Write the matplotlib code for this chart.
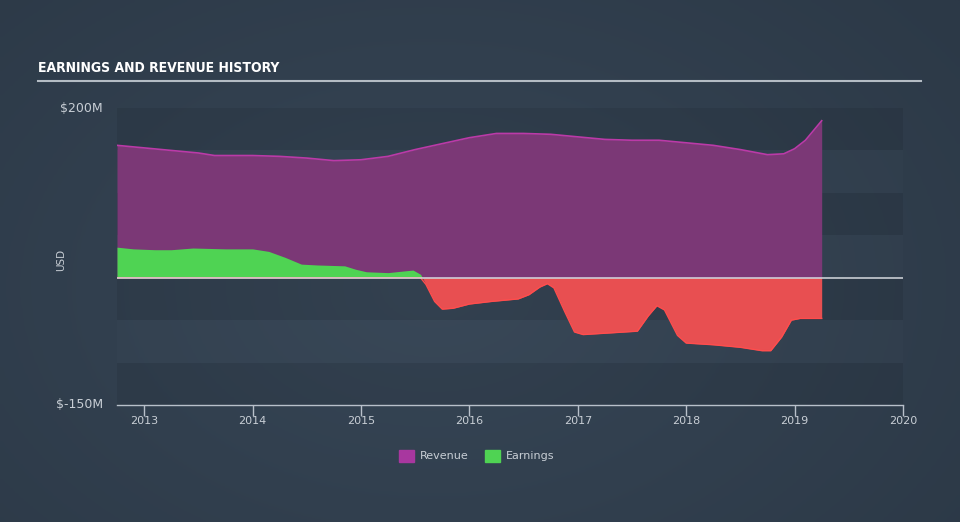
import matplotlib.pyplot as plt
import numpy as np
from matplotlib.patches import Rectangle

# revenue (USD millions)
rev_t = [2012.75, 2013.0, 2013.25, 2013.5, 2013.65, 2014.0, 2014.25, 2014.5, 2014.75,
         2015.0, 2015.25, 2015.5, 2015.75, 2016.0, 2016.25, 2016.5, 2016.75, 2017.0,
         2017.25, 2017.5, 2017.75, 2018.0, 2018.25, 2018.5, 2018.75, 2018.9, 2019.0,
         2019.1, 2019.25]
rev_v = [156, 153, 150, 147, 144, 144, 143, 141, 138,
         139, 143, 151, 158, 165, 170, 170, 169, 166,
         163, 162, 162, 159, 156, 151, 145, 146, 152,
         162, 185]

# earnings (USD millions)
earn_t = [2012.75, 2012.9, 2013.1, 2013.25, 2013.45, 2013.75, 2014.0, 2014.15, 2014.3,
          2014.45, 2014.6, 2014.85, 2014.95, 2015.05, 2015.25, 2015.4, 2015.48, 2015.55,
          2015.6, 2015.68, 2015.75, 2015.85, 2016.0, 2016.2, 2016.45, 2016.55, 2016.65,
          2016.72, 2016.78, 2016.88, 2016.97, 2017.05, 2017.3, 2017.55, 2017.65, 2017.73,
          2017.8, 2017.92, 2018.0, 2018.25, 2018.5, 2018.7, 2018.78, 2018.88, 2018.97,
          2019.05, 2019.25]
earn_v = [36, 34, 33, 33, 35, 34, 34, 31, 24,
          16, 15, 14, 10, 7, 6, 8, 9, 4,
          -8, -28, -37, -36, -31, -28, -25, -20, -11,
          -7, -12, -40, -64, -67, -65, -63, -45, -33,
          -38, -68, -77, -79, -82, -86, -86, -70, -50,
          -48, -48]

years = [2013, 2014, 2015, 2016, 2017, 2018, 2019, 2020]

W, H = 960, 522
fig = plt.figure(figsize=(W / 100, H / 100), dpi=100)

# background gradient
bg = fig.add_axes([0, 0, 1, 1], zorder=-10)
yy, xx = np.mgrid[0:1:200j, 0:1:200j]
r = np.sqrt((xx - 0.45) ** 2 + ((yy - 0.55) * 0.8) ** 2)
c0 = np.array([0x37, 0x46, 0x56]) / 255
c1 = np.array([0x2c, 0x39, 0x47]) / 255
img = c0[None, None, :] + (c1 - c0)[None, None, :] * np.clip(r / 0.7, 0, 1)[:, :, None]
bg.imshow(img, extent=[0, 1, 0, 1], aspect='auto')
bg.axis('off')

ax = fig.add_axes([117 / W, (H - 405) / H, (903 - 117) / W, (405 - 108) / H])
ax.set_facecolor('none')
ax.set_xlim(2012.75, 2020.0)
ax.set_ylim(-150, 200)

# horizontal bands
for i, lo in enumerate(range(150, -200, -50)):
    if i % 2 == 0:
        ax.axhspan(lo, lo + 50, color='black', alpha=0.07, lw=0, zorder=0)
    else:
        ax.axhspan(lo, lo + 50, color='white', alpha=0.01, lw=0, zorder=0)

ax.fill_between(rev_t, 0, rev_v, color='#7b3876', lw=0, zorder=2)
ax.plot(rev_t, rev_v, color='#bb3aa8', lw=1.2, zorder=3)

et = np.array(earn_t)
ev = np.array(earn_v)
ax.fill_between(et, 0, ev, where=ev >= 0, interpolate=True, color='#4fd353', lw=0, zorder=4)
ax.fill_between(et, 0, ev, where=ev <= 0, interpolate=True, color='#e84f51', lw=0, zorder=4)
ax.plot(et, np.clip(ev, None, 0), color='#ff4d4d', lw=1, zorder=5)

ax.axhline(0, color='#d6dadf', lw=1.1, zorder=6)

for s in ['top', 'right', 'left']:
    ax.spines[s].set_visible(False)
ax.spines['bottom'].set_color('#b8c0ca')
ax.spines['bottom'].set_linewidth(1)
ax.set_xticks(years)
ax.set_xticklabels([str(y) for y in years])
ax.tick_params(axis='x', colors='#b8c0ca', length=8, width=1, labelsize=8,
               labelcolor='#c8ced5', pad=0)
ax.set_yticks([])

fig.text(103 / W, 1 - 108 / H, '$200M', ha='right', va='center', color='#c8ced5', fontsize=9)
fig.text(103 / W, 1 - 404 / H, '$-150M', ha='right', va='center', color='#c8ced5', fontsize=9)
fig.text(61 / W, 1 - 260 / H, 'USD', ha='center', va='center', rotation=90,
         color='#c8ced5', fontsize=7.5)

# title
fig.text(38 / W, 1 - 68 / H, 'EARNINGS AND REVENUE HISTORY', ha='left', va='center',
         color='white', fontsize=10, fontweight='bold', fontstretch='condensed',
         family=['DejaVu Sans'])
fig.add_artist(plt.Line2D([38 / W, 921 / W], [1 - 81 / H, 1 - 81 / H],
                          color='#b4bcc4', lw=1.5))

# legend
for x0, col, lab in [(399, '#a8379f', 'Revenue'), (485, '#4fd353', 'Earnings')]:
    fig.add_artist(Rectangle((x0 / W, 1 - 462 / H), 15 / W, 12 / H, color=col,
                             transform=fig.transFigure))
    fig.text((x0 + 21) / W, 1 - 456 / H, lab, ha='left', va='center',
             color='#c8ced5', fontsize=8)

fig.savefig('out.png', dpi=100)
